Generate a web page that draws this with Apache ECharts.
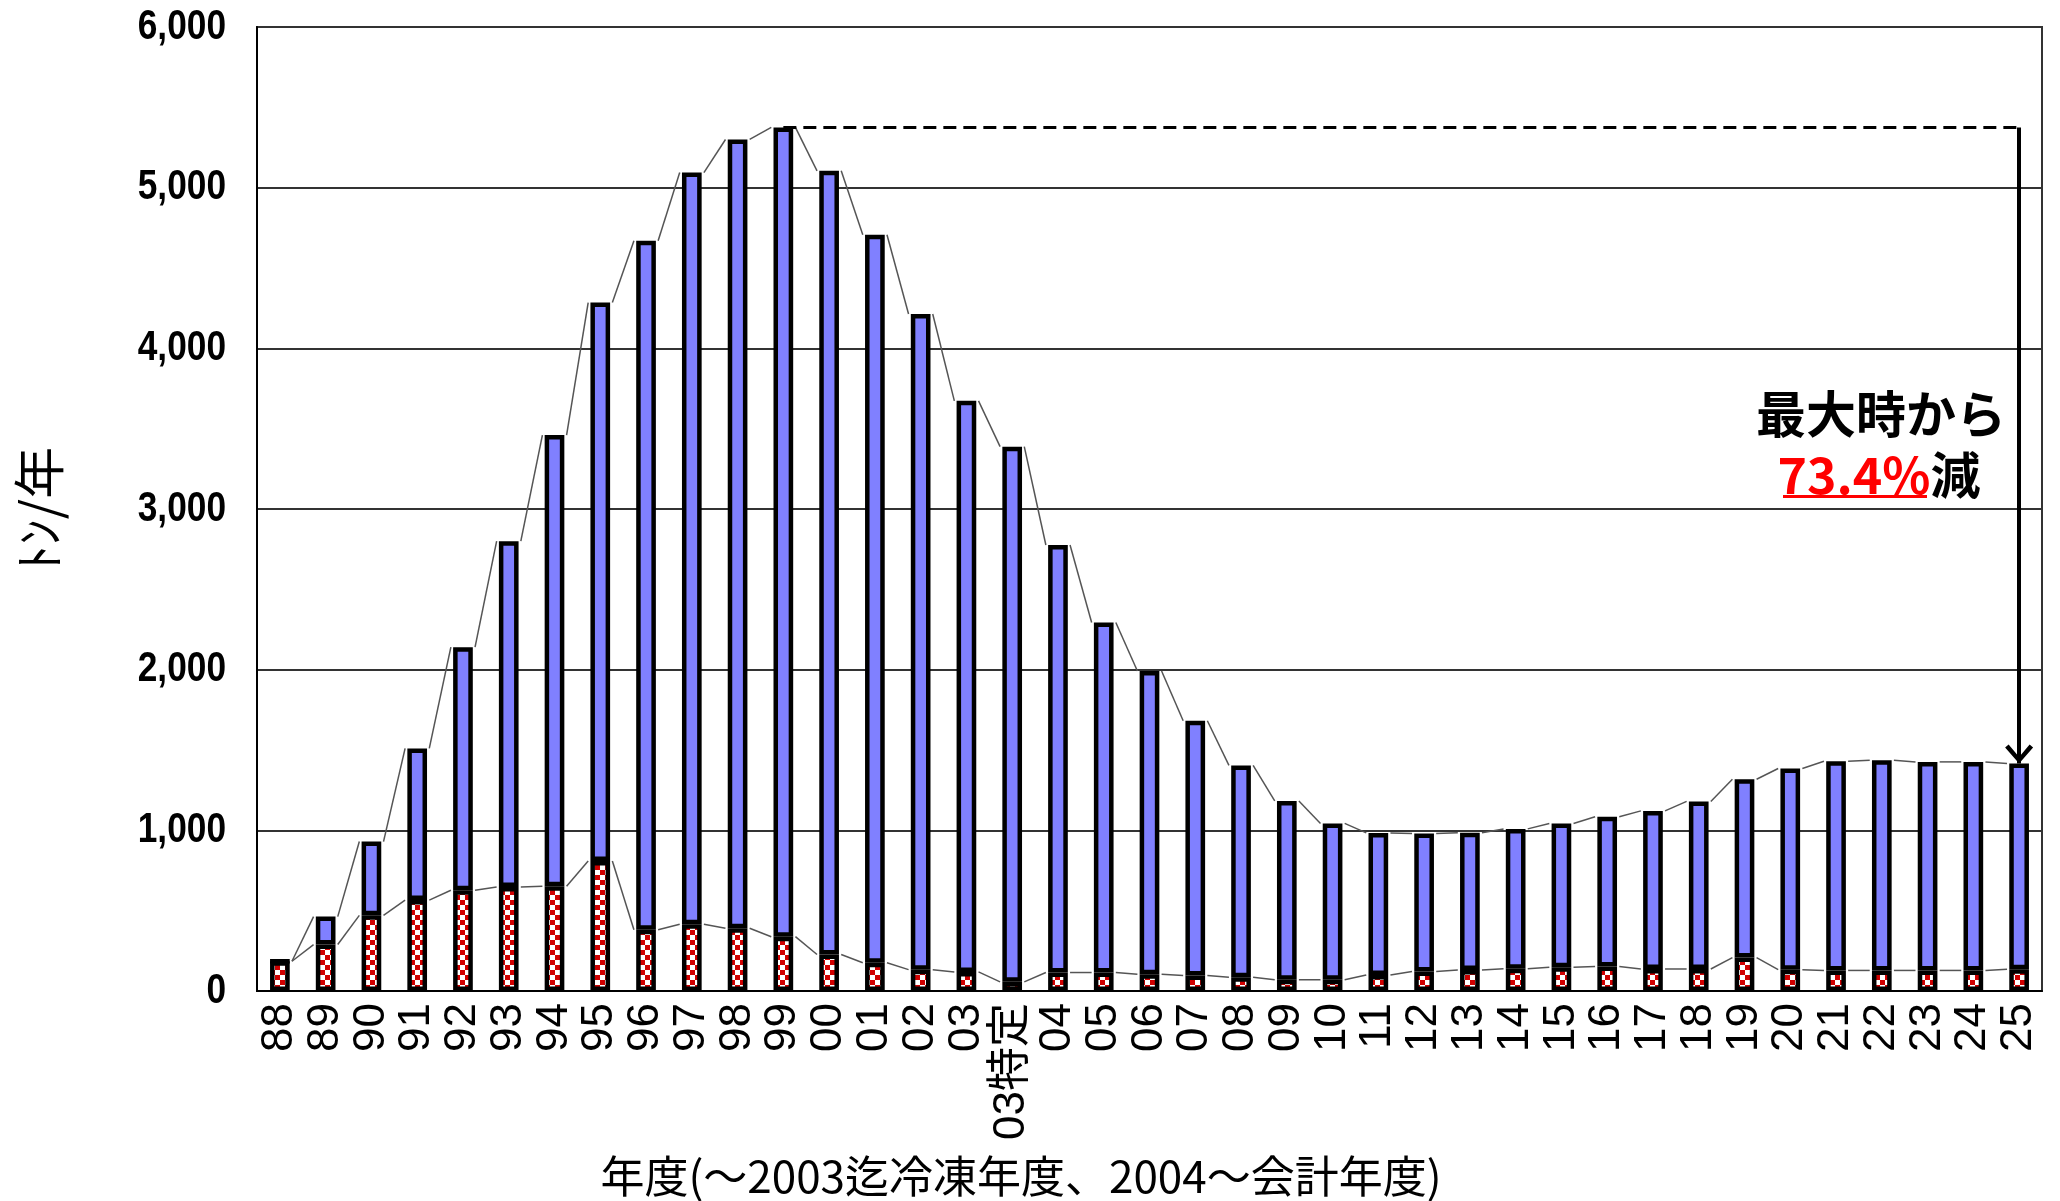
<!DOCTYPE html>
<html>
<head>
<meta charset="utf-8">
<script src="https://cdn.jsdelivr.net/npm/echarts@6/dist/echarts.min.js"></script>
<style>
html,body{margin:0;padding:0;background:#fff;}
#chart{width:2060px;height:1201px;}
</style>
</head>
<body>
<div id="chart"></div>
<script>
// ---- data ----
const categories = ['88','89','90','91','92','93','94','95','96','97','98','99',
  '00','01','02','03','03特定','04','05','06','07','08','09','10','11','12','13',
  '14','15','16','17','18','19','20','21','22','23','24','25'];
// lower (checkered red) segment, t/year
const redValues = [185,289,471,566,627,648,652,809,381,416,391,338,
  227,176,133,119,57,115,115,105,96,86,70,70,100,122,130,
  138,148,152,137,137,208,133,128,128,128,128,135];
// upper (blue) segment, t/year
const blueValues = [0,174,459,944,1513,2152,2808,3476,4289,4678,4909,5037,
  4878,4531,4081,3554,3331,2661,2179,1887,1586,1318,1113,973,884,858,855,
  871,895,932,984,1043,1110,1252,1302,1308,1298,1298,1281];
const yTickLabels = ['0','1,000','2,000','3,000','4,000','5,000','6,000'];
const yAxisName = 'ﾄﾝ/年';
const xAxisName = '年度(～2003迄冷凍年度、2004～会計年度)';
const noteLine1 = '最大時から';
const notePct = '73.4%';
const noteTail = '減';
const peakCategory = '99';
const lastCategory = '25';

// ---- derived ----
const totals = redValues.map((r, i) => r + blueValues[i]);
const peakIdx = categories.indexOf(peakCategory);
const lastIdx = categories.indexOf(lastCategory);
const seriesLineData = [];
for (let i = 0; i < categories.length - 1; i++) {
  seriesLineData.push([i, totals[i], totals[i + 1], redValues[i], redValues[i + 1]]);
}

function makeChecker() {
  const s = 5;
  const c = document.createElement('canvas');
  c.width = 2 * s; c.height = 2 * s;
  const g = c.getContext('2d');
  g.fillStyle = '#ffffff'; g.fillRect(0, 0, 2 * s, 2 * s);
  g.fillStyle = '#d00000';
  g.fillRect(0, 0, s, s); g.fillRect(s, s, s, s);
  return c;
}

const BAR_FRAC = 0.43;
const BORDER = 4.5;
const chart = echarts.init(document.getElementById('chart'), null, {renderer: 'canvas'});
const jp = '"Noto Sans CJK JP", sans-serif';

const option = {
  animation: false,
  backgroundColor: '#ffffff',
  grid: {left: 257, right: 18, top: 27, bottom: 210, show: true,
         borderColor: '#333', borderWidth: 2, backgroundColor: '#fff'},
  xAxis: {
    type: 'category', data: categories, boundaryGap: true,
    axisLine: {lineStyle: {color: '#000', width: 2}},
    axisTick: {inside: true, length: 10, interval: 0, lineStyle: {color: '#000', width: 2}},
    axisLabel: {rotate: 90, interval: 0, margin: 12, fontSize: 44, color: '#000',
      fontFamily: '"Liberation Sans", "Noto Sans CJK JP", sans-serif'}
  },
  yAxis: {
    type: 'value', min: 0, max: 6000, interval: 1000,
    axisLine: {show: true, lineStyle: {color: '#000', width: 2}},
    axisTick: {show: false},
    splitLine: {lineStyle: {color: '#333', width: 2}},
    axisLabel: {show: false},
    name: yAxisName, nameLocation: 'middle', nameRotate: 90, nameGap: 192,
    nameTextStyle: {fontSize: 52, color: '#000', fontFamily: jp}
  },
  series: [
    {
      name: 'red', type: 'bar', stack: 'total', data: redValues,
      barWidth: (BAR_FRAC * 100) + '%',
      itemStyle: {color: {image: makeChecker(), repeat: 'repeat'}, borderColor: '#000', borderWidth: BORDER}
    },
    {
      name: 'blue', type: 'bar', stack: 'total', data: blueValues,
      barWidth: (BAR_FRAC * 100) + '%',
      itemStyle: {color: '#8080ff', borderColor: '#000', borderWidth: BORDER},
      markLine: {
        silent: true, animation: false,
        label: {show: false},
        data: [
          [
            {coord: [peakIdx, totals[peakIdx]], symbol: 'none', lineStyle: {type: [13, 7], width: 3, color: '#000'}},
            {coord: [lastIdx, totals[peakIdx]], symbol: 'none'}
          ],
          [
            {coord: [lastIdx, totals[peakIdx]], symbol: 'none', lineStyle: {type: 'solid', width: 4, color: '#000'}},
            {coord: [lastIdx, totals[lastIdx]],
             symbol: 'path://M10,0 L20,11 L17.5,13 L10,4.5 L2.5,13 L0,11 Z M10,-13 L10.01,-13 L10,-12.99 Z',
             symbolSize: [28, 38]}
          ]
        ]
      }
    },
    {
      name: 'lines', type: 'custom', data: seriesLineData, z: 3,
      encode: {x: 0, y: 1},
      renderItem: function (params, api) {
        const i = api.value(0);
        const half = api.size([1, 0])[0] * BAR_FRAC / 2 + BORDER / 2;
        const a1 = api.coord([i, api.value(1)]), a2 = api.coord([i + 1, api.value(2)]);
        const b1 = api.coord([i, api.value(3)]), b2 = api.coord([i + 1, api.value(4)]);
        const st = {stroke: '#555', lineWidth: 1.5};
        return {type: 'group', children: [
          {type: 'line', shape: {x1: a1[0] + half, y1: a1[1], x2: a2[0] - half, y2: a2[1]}, style: st},
          {type: 'line', shape: {x1: b1[0] + half, y1: b1[1], x2: b2[0] - half, y2: b2[1]}, style: st}
        ]};
      }
    }
  ]
};
chart.setOption(option);

// y tick labels: condensed bold text placed through the axis scale
const gridLeft = 257;
const yLabelGraphics = yTickLabels.map((t, k) => {
  const py = chart.convertToPixel({yAxisIndex: 0}, k * 1000);
  return {type: 'text', x: gridLeft - 31, y: py, scaleX: 0.84,
    style: {text: t, font: 'bold 42px "Liberation Sans", sans-serif', fill: '#000',
      textAlign: 'right', textVerticalAlign: 'middle'}};
});

chart.setOption({
  graphic: [
    {type: 'text', x: 1021, y: 1176,
     style: {text: xAxisName, font: '44px ' + jp, fill: '#000', textAlign: 'center', textVerticalAlign: 'middle'}},
    {type: 'text', x: 1881, y: 414, z: 10,
     style: {text: noteLine1, font: 'bold 50px ' + jp, fill: '#000', textAlign: 'center', textVerticalAlign: 'middle'}},
    {type: 'text', x: 1879, y: 475, z: 10,
     style: {text: '{a|' + notePct + '}{b|' + noteTail + '}', textAlign: 'center', textVerticalAlign: 'middle',
       rich: {a: {font: 'bold 50px ' + jp, fill: '#ff0000'}, b: {font: 'bold 50px ' + jp, fill: '#000'}}}},
    {type: 'rect', z: 10, shape: {x: 1783, y: 495, width: 144, height: 3}, style: {fill: '#ff0000'}}
  ].concat(yLabelGraphics)
});
</script>
</body>
</html>
